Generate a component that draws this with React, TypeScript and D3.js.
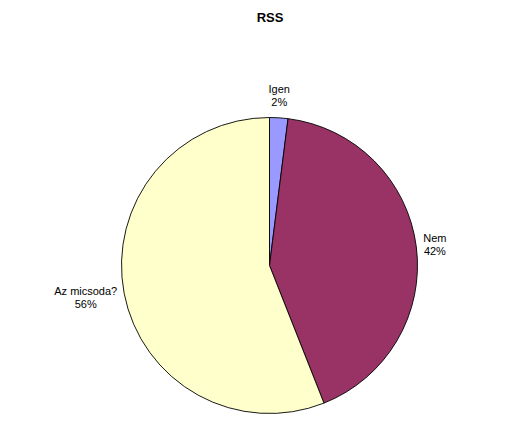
import React, { useEffect, useRef } from "react";
import * as d3 from "d3";

// Survey answers for "RSS"
const categories = ["Igen", "Nem", "Az micsoda?"];
const values = [2, 42, 56];
const colors = ["#9999FF", "#993366", "#FFFFCC"];
const title = "RSS";

const W = 512;
const H = 448;
const CX = 269.5;
const CY = 265.5;
const R = 148;

export default function App() {
  const ref = useRef<SVGSVGElement | null>(null);

  useEffect(() => {
    const svg = d3.select(ref.current);
    svg.selectAll("*").remove();

    svg.append("rect").attr("width", W).attr("height", H).attr("fill", "#fff");

    svg
      .append("text")
      .attr("x", 270)
      .attr("y", 22)
      .attr("text-anchor", "middle")
      .attr("font-family", "Liberation Sans, Arial, sans-serif")
      .attr("font-weight", "bold")
      .attr("font-size", 13)
      .text(title);

    const data = categories.map((c, i) => ({ label: c, value: values[i], color: colors[i] }));
    const pie = d3
      .pie<{ label: string; value: number; color: string }>()
      .sort(null)
      .value((d) => d.value);
    const arcs = pie(data);
    const arc = d3
      .arc<d3.PieArcDatum<{ label: string; value: number; color: string }>>()
      .innerRadius(0)
      .outerRadius(R);

    const g = svg.append("g").attr("transform", `translate(${CX},${CY})`);
    g.selectAll("path")
      .data(arcs)
      .join("path")
      .attr("d", (d) => arc(d) as string)
      .attr("fill", (d) => d.data.color)
      .attr("stroke", "#000")
      .attr("stroke-width", 0.9);

    // Outside-end labels: two centered lines, placed beside the slice's mid angle
    const lineH = 13;
    const total = d3.sum(values);
    arcs.forEach((d) => {
      const mid = (d.startAngle + d.endAngle) / 2;
      const s = Math.sin(mid);
      const c = Math.cos(mid);
      const lines = [d.data.label, `${Math.round((d.data.value / total) * 100)}%`];
      const t = svg
        .append("text")
        .attr("font-family", "Liberation Sans, Arial, sans-serif")
        .attr("font-size", 11)
        .attr("fill", "#000")
        .attr("text-anchor", "middle");
      const spans = lines.map((l) => t.append("tspan").text(l));
      const w = Math.max(...spans.map((sp) => (sp.node() as SVGTSpanElement).getComputedTextLength()));
      const px = CX + s * (R + 7);
      let bx = px;
      if (s > 0.3) bx = px + w / 2;
      else if (s < -0.3) bx = px - w / 2;
      const by = CY - c * 170;
      spans.forEach((sp, i) => {
        sp.attr("x", bx).attr("y", by + (i - (lines.length - 1) / 2) * lineH + 4);
      });
    });
  }, []);

  return (
    <svg
      ref={ref}
      width={W}
      height={H}
      style={{ position: "absolute", left: 0, top: 0, display: "block" }}
    />
  );
}
